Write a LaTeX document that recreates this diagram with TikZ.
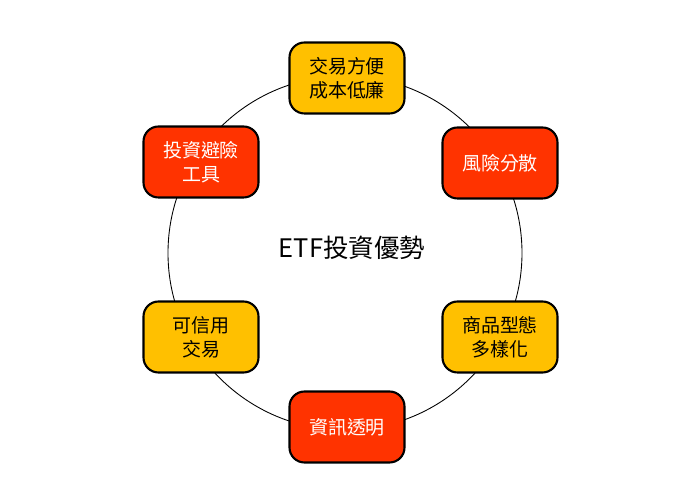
\documentclass[tikz,border=0pt]{standalone}
\usepackage{fontspec}
\setmainfont{Noto Sans CJK TC}
\usepackage{tikz}

\definecolor{gold}{HTML}{FFC000}
\definecolor{redorange}{HTML}{FF3300}

\begin{document}
\begin{tikzpicture}
\useasboundingbox (0,0) rectangle (14,10);
\coordinate (o) at (6.9,4.94);
\draw[line width=0.5pt] (o) circle (3.54);

\begin{scope}[every node/.style={rounded corners=0.3cm,draw,line width=1.2pt,
    minimum width=2.3cm,minimum height=1.42cm,align=center,
    font=\fontsize{10.8}{13.6}\selectfont},
    goldbox/.style={fill=gold,text=black},
    redbox/.style={fill=redorange,text=white}]
    \node[goldbox] (1) at (6.94,8.44) {交易方便\\成本低廉};
    \node[redbox] (2) at (10.0,6.74) {風險分散};
    \node[goldbox] (3) at (10.0,3.26) {商品型態\\多樣化};
    \node[redbox] (4) at (6.94,1.46) {資訊透明};
    \node[goldbox] (5) at (4.02,3.26) {可信用\\交易};
    \node[redbox] (6) at (4.02,6.76) {投資避險\\工具};
\end{scope}

\node[font=\fontsize{14.5}{17}\selectfont] (c) at (7.04,5.04) {ETF投資優勢};
\end{tikzpicture}
\end{document}
